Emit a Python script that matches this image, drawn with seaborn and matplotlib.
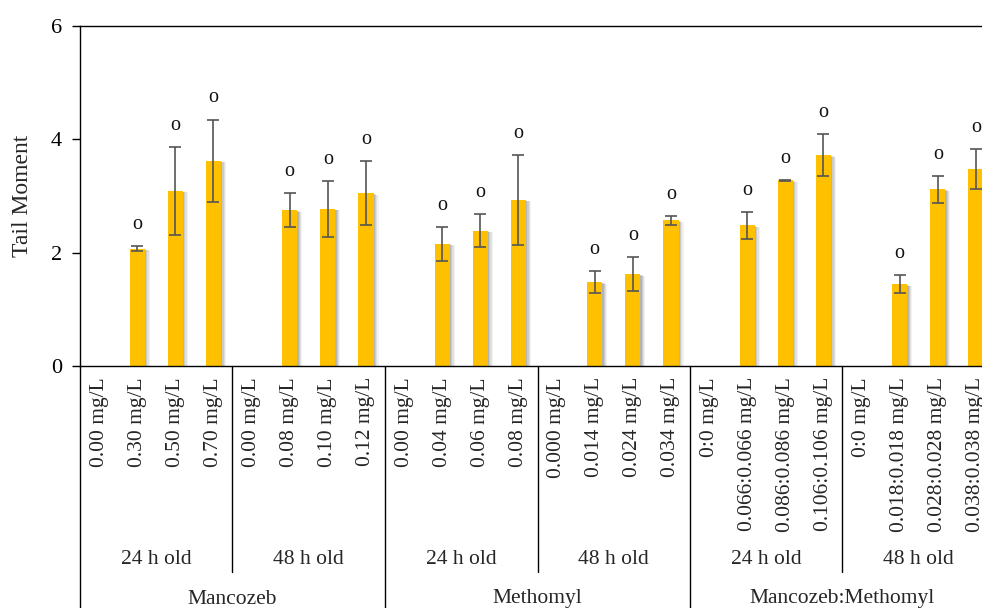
import numpy as np
import pandas as pd
import seaborn as sns
import matplotlib
matplotlib.use("Agg")
import matplotlib.pyplot as plt
import matplotlib.patheffects as pe
import matplotlib.transforms as mtransforms

# ---- data -------------------------------------------------------------
concentrations = [
    "0.00 mg/L", "0.30 mg/L", "0.50 mg/L", "0.70 mg/L",
    "0.00 mg/L", "0.08 mg/L", "0.10 mg/L", "0.12 mg/L",
    "0.00 mg/L", "0.04 mg/L", "0.06 mg/L", "0.08 mg/L",
    "0.000 mg/L", "0.014 mg/L", "0.024 mg/L", "0.034 mg/L",
    "0:0 mg/L", "0.066:0.066 mg/L", "0.086:0.086 mg/L", "0.106:0.106 mg/L",
    "0:0 mg/L", "0.018:0.018 mg/L", "0.028:0.028 mg/L", "0.038:0.038 mg/L",
]
ages = ["24 h old", "48 h old", "24 h old", "48 h old", "24 h old", "48 h old"]
chemicals = ["Mancozeb", "Methomyl", "Mancozeb:Methomyl"]

tail_moment = [0.00, 2.07, 3.09, 3.62,
               0.00, 2.75, 2.77, 3.05,
               0.00, 2.16, 2.39, 2.93,
               0.00, 1.48, 1.62, 2.57,
               0.00, 2.48, 3.28, 3.72,
               0.00, 1.44, 3.12, 3.48]
error = [0.00, 0.04, 0.78, 0.73,
         0.00, 0.30, 0.49, 0.56,
         0.00, 0.30, 0.29, 0.80,
         0.00, 0.20, 0.30, 0.08,
         0.00, 0.24, 0.01, 0.37,
         0.00, 0.16, 0.24, 0.35]
letters = ["", "o", "o", "o", "", "o", "o", "o",
           "", "o", "o", "o", "", "o", "o", "o",
           "", "o", "o", "o", "", "o", "o", "o"]

df = pd.DataFrame({
    "pos": np.arange(len(concentrations)),
    "concentration": concentrations,
    "tail_moment": tail_moment,
    "error": error,
    "letter": letters,
})

# ---- style ------------------------------------------------------------
sns.set_style("white")
plt.rcParams["font.family"] = ["Liberation Serif", "DejaVu Serif"]
plt.rcParams["axes.linewidth"] = 1.0

W, H = 982, 608
fig = plt.figure(figsize=(W / 100, H / 100), dpi=100)
# plotting area runs slightly past the right edge of the canvas
ax = fig.add_axes([80 / W, 1 - 366 / H, 915 / W, 340 / H])

sns.barplot(data=df, x="pos", y="tail_moment", color="#FFC000",
            width=0.4, errorbar=None, saturation=1, ax=ax)

# soft drop shadow on the bars
shadow = [
    pe.SimplePatchShadow(offset=(3.6, -1.0), shadow_rgbFace="#000000", alpha=0.05),
    pe.SimplePatchShadow(offset=(2.7, -1.0), shadow_rgbFace="#000000", alpha=0.07),
    pe.SimplePatchShadow(offset=(1.8, -0.8), shadow_rgbFace="#000000", alpha=0.09),
    pe.SimplePatchShadow(offset=(0.9, -0.5), shadow_rgbFace="#000000", alpha=0.11),
    pe.Normal(),
]
for bar in ax.patches:
    bar.set_edgecolor("none")
    bar.set_path_effects(shadow)

mask = df["tail_moment"] > 0
ax.errorbar(df.loc[mask, "pos"], df.loc[mask, "tail_moment"],
            yerr=df.loc[mask, "error"], fmt="none", ecolor="#555555",
            elinewidth=1.2, capsize=4.5, capthick=1.2, zorder=3)

for _, r in df[mask].iterrows():
    ax.text(r["pos"], r["tail_moment"] + r["error"] + 0.38, r["letter"],
            ha="center", va="center", fontsize=14.5, color="#111111")

# ---- axes -------------------------------------------------------------
ax.set_xlim(-0.5, len(concentrations) - 0.5)
ax.set_ylim(0, 6)
ax.set_yticks([0, 2, 4, 6])
ax.tick_params(axis="y", direction="out", length=6, width=1.0,
               labelsize=16, pad=7, left=True, colors="black")
ax.set_ylabel("Tail Moment", fontsize=17, labelpad=13)

ax.set_xticks(df["pos"])
ax.set_xticklabels(concentrations, rotation=90, fontsize=15.5, va="top", ha="center")
ax.tick_params(axis="x", length=0, pad=8)
ax.set_xlabel("")

for s in ["left", "bottom", "top"]:
    ax.spines[s].set_color("black")
    ax.spines[s].set_visible(True)
ax.spines["right"].set_visible(False)

# multi-level category axis: separators and group labels
trans = mtransforms.blended_transform_factory(ax.transData, ax.transAxes)
y_age_sep = (366 - 572) / 340
y_bottom = -1.0
for x in [3.5, 11.5, 19.5]:
    ax.plot([x, x], [0, y_age_sep], color="black", lw=1.0,
            transform=trans, clip_on=False)
for x in [-0.5, 7.5, 15.5, 23.5]:
    ax.plot([x, x], [0, y_bottom], color="black", lw=1.0,
            transform=trans, clip_on=False)

y_age = (366 - 560) / 340
for i, a in enumerate(ages):
    ax.text(4 * i + 1.5, y_age, a, transform=trans, ha="center", va="center",
            fontsize=15.5)

y_chem = (366 - 599) / 340
for i, c in enumerate(chemicals):
    ax.text(8 * i + 3.5, y_chem, c, transform=trans, ha="center", va="center",
            fontsize=15.5)

fig.savefig("out.png", dpi=100)
